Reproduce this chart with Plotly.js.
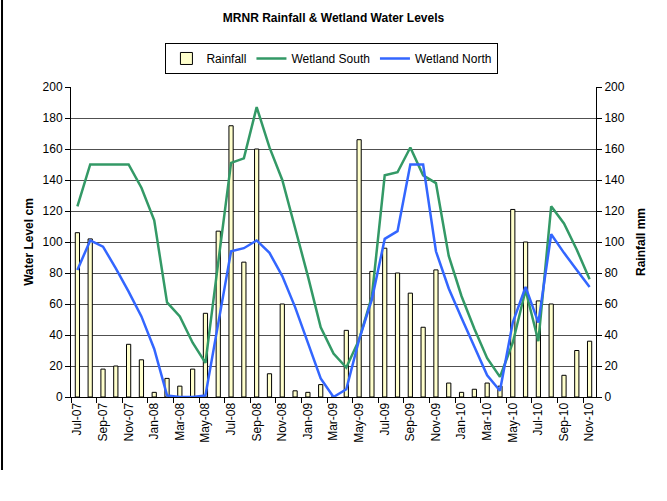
<!DOCTYPE html>
<html>
<head>
<meta charset="utf-8">
<script src="https://cdn.plot.ly/plotly-3.0.1.min.js"></script>
<style>
  html, body { margin: 0; padding: 0; background: #fff; }
  #chart { width: 667px; height: 501px; }
</style>
</head>
<body>
<div id="chart"></div>
<script>
const months = ["Jul-07","Aug-07","Sep-07","Oct-07","Nov-07","Dec-07",
  "Jan-08","Feb-08","Mar-08","Apr-08","May-08","Jun-08","Jul-08","Aug-08","Sep-08","Oct-08","Nov-08","Dec-08",
  "Jan-09","Feb-09","Mar-09","Apr-09","May-09","Jun-09","Jul-09","Aug-09","Sep-09","Oct-09","Nov-09","Dec-09",
  "Jan-10","Feb-10","Mar-10","Apr-10","May-10","Jun-10","Jul-10","Aug-10","Sep-10","Oct-10","Nov-10"];

const rainfall = [106,102,18,20,34,24,3,12,7,18,54,107,175,87,160,15,60,4,3,8,0,43,166,81,96,80,67,45,82,9,3,5,9,7,121,100,62,60,14,30,36];

const wetlandSouth = [123,150,150,150,150,135,114,61,52,35,22,87,151,154,187,161,140,109,78,45,28,19,37,65,143,145,161,143,138,91,65,44,25,13,35,69,36,123,112,95,76];

const wetlandNorth = [82,101,97,83,68,52,31,1,0,0,1,47,94,96,101,93,78,58,35,12,0,5,37,63,102,107,150,150,94,70,51,33,14,4,48,71,48,105,93,82,71];

const FONT = "Liberation Sans, Arial, sans-serif";

const data = [
  {
    type: "bar", name: "Rainfall", x: months, y: rainfall, yaxis: "y",
    marker: { color: "#FFFFCC", line: { color: "#000000", width: 1 } },
    width: 0.33
  },
  {
    type: "scatter", mode: "lines", name: "Wetland South", x: months, y: wetlandSouth, yaxis: "y2",
    line: { color: "#339966", width: 2.5 }
  },
  {
    type: "scatter", mode: "lines", name: "Wetland North", x: months, y: wetlandNorth, yaxis: "y2",
    line: { color: "#3366FF", width: 2.5 }
  }
];

const layout = {
  width: 667, height: 501,
  margin: { l: 71, r: 71, t: 87, b: 104 },
  paper_bgcolor: "#ffffff", plot_bgcolor: "#ffffff",
  font: { family: FONT, size: 12, color: "#000" },
  title: {
    text: "<b>MRNR Rainfall & Wetland Water Levels</b>",
    font: { family: FONT, size: 12, color: "#000" },
    x: 0.5, xref: "paper", y: 0.964, yref: "container", yanchor: "middle"
  },
  showlegend: true,
  legend: {
    orientation: "h", x: 0.497, xanchor: "center", y: 1.142, yanchor: "top",
    bgcolor: "#ffffff", bordercolor: "#000000", borderwidth: 1,
    font: { family: FONT, size: 12, color: "#000" },
    traceorder: "normal"
  },
  bargap: 0.67,
  xaxis: {
    type: "category", range: [-0.5, 40.5],
    tickmode: "linear", tick0: 0, dtick: 2,
    tickson: "boundaries", ticks: "outside", ticklen: 5, tickcolor: "#000",
    tickangle: -90, tickfont: { family: FONT, size: 12, color: "#000" },
    showline: true, linecolor: "#000", linewidth: 1,
    showgrid: false, zeroline: false
  },
  yaxis: {
    side: "right", range: [0, 200], tickmode: "linear", tick0: 0, dtick: 20,
    ticks: "outside", ticklen: 5, tickcolor: "#000",
    showline: true, linecolor: "#000", linewidth: 1,
    showgrid: true, gridcolor: "#505050", gridwidth: 1, zeroline: false,
    tickfont: { family: FONT, size: 12, color: "#000" },
    title: { text: "<b>Rainfall mm</b>", font: { family: FONT, size: 12, color: "#000" }, standoff: 12 }
  },
  yaxis2: {
    overlaying: "y", side: "left", range: [0, 200], tickmode: "linear", tick0: 0, dtick: 20,
    ticks: "outside", ticklen: 5, tickcolor: "#000",
    showline: true, linecolor: "#000", linewidth: 1,
    showgrid: false, zeroline: false,
    tickfont: { family: FONT, size: 12, color: "#000" },
    title: { text: "<b>Water Level cm</b>", font: { family: FONT, size: 12, color: "#000" }, standoff: 6 }
  },
  shapes: [
    { type: "line", xref: "paper", yref: "paper",
      x0: -0.1314, x1: -0.1314, y0: 1.2806, y1: -0.2355,
      line: { color: "#000", width: 2 } }
  ]
};

Plotly.newPlot("chart", data, layout, { displayModeBar: false, staticPlot: true });
</script>
</body>
</html>
